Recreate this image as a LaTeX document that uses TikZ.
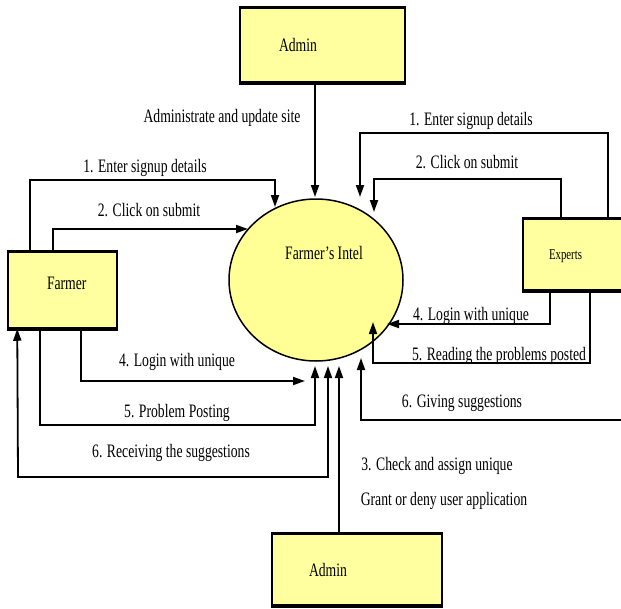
\documentclass[tikz,border=0pt]{standalone}
\usepackage{fontspec}
\setmainfont{Liberation Serif}[FakeStretch=0.72]
\usetikzlibrary{shapes.geometric,arrows.meta}
\definecolor{boxyellow}{RGB}{255,255,160}
\definecolor{ellyellow}{RGB}{255,255,150}
\begin{document}
\begin{tikzpicture}[x=1pt,y=-1pt,
  font=\fontsize{19}{22}\selectfont,
  tip/.tip={Triangle[length=12pt,width=8pt]},
  flow/.style={line width=1.8pt,-tip},
  lbl/.style={anchor=base,inner sep=0pt},
  box/.style={fill=boxyellow,draw,line width=1.5pt,inner ysep=0pt,
    text height=13pt,text depth=0pt,align=left},
  rim/.style={line width=3.5pt}]
\useasboundingbox (0,0) rectangle (621,608);
\clip (0,0) rectangle (621,608);
\fill[white] (0,0) rectangle (621,608);

% boxes
\node[box,minimum height=74pt,inner xsep=39pt,text width=87pt] (admintop) at (322.5,45) {Admin};
\node[box,minimum height=76pt,inner xsep=39pt,text width=31pt,text depth=14pt] (farmer) at (62.5,290) {Farmer};
\node[box,minimum height=71pt,inner xsep=26pt,text width=55pt,text height=10pt,
  font=\fontsize{15}{18}\selectfont] (experts) at (576.5,254.5) {Experts};
\node[box,minimum height=71pt,inner xsep=37pt,text width=96pt] (adminbot) at (357,569.5) {Admin};
\foreach \n in {admintop,farmer,experts,adminbot}{
  \draw[rim] (\n.north west) -- (\n.north east);
  \draw[rim] (\n.south west) -- (\n.south east);
}

% process
\node[ellipse,draw,fill=ellyellow,line width=1.5pt,minimum width=174pt,
  minimum height=162pt,inner sep=0pt] (intel) at (316,280) {};
\node[lbl] (inteltxt) at (324,259) {Farmer's Intel};

% arrow tips near the process
\coordinate (ta) at (315,197);
\coordinate (f1) at (275,207);
\coordinate (f2) at (248,229);
\coordinate (f4) at (305,381);
\coordinate (f5) at (315,366);
\coordinate (f6) at (328,366);
\coordinate (f3) at (339,366);
\coordinate (e1) at (360,197);
\coordinate (e2) at (374,212);
\coordinate (e4) at (387,324);
\coordinate (e5) at (373,322);
\coordinate (e6) at (361,358);

% admin (top)
\draw[flow] ([xshift=-7.5pt]admintop.south) -- (ta);
% farmer flows
\draw[flow] ([xshift=23pt]farmer.north west) |- (275,180) -- (f1);
\draw[flow] ([xshift=46pt]farmer.north west) |- (f2);
\draw[flow] ([xshift=74pt]farmer.south west) |- (f4);
\draw[flow] ([xshift=33pt]farmer.south west) |- (315,425) -- (f5);
\draw[flow,tip-tip] (f6) |- (18,477) -- ([xshift=10pt]farmer.south west);
% admin (bottom)
\draw[flow] ([xshift=-18pt]adminbot.north) -- (f3);
% expert flows
\draw[flow] ([xshift=86pt]experts.north west) |- (360,133) -- (e1);
\draw[flow] ([xshift=39pt]experts.north west) |- (374,179) -- (e2);
\draw[flow] ([xshift=28pt]experts.south west) |- (e4);
\draw[flow] ([xshift=68pt]experts.south west) |- (373,363) -- (e5);
\draw[flow] ([xshift=103pt]experts.south west) |- (361,420) -- (e6);

% labels
\node[lbl] (la) at (222,122) {Administrate and update site};
\node[lbl] (lf1) at (145,172) {1. Enter signup details};
\node[lbl] (lf2) at (149,216) {2. Click on submit};
\node[lbl] (le1) at (471,125) {1. Enter signup details};
\node[lbl] (le2) at (467,168) {2. Click on submit};
\node[lbl] (lf4) at (177,366) {4. Login with unique};
\node[lbl] (lf5) at (177,417) {5. Problem Posting};
\node[lbl] (lf6) at (171,457) {6. Receiving the suggestions};
\node[lbl] (le4) at (471,320) {4. Login with unique};
\node[lbl] (le5) at (499,360) {5. Reading the problems posted};
\node[lbl] (le6) at (462,407) {6. Giving suggestions};
\node[lbl] (l3a) at (437,470) {3. Check and assign unique};
\node[lbl] (l3b) at (444,505) {Grant or deny user application};
\end{tikzpicture}
\end{document}
